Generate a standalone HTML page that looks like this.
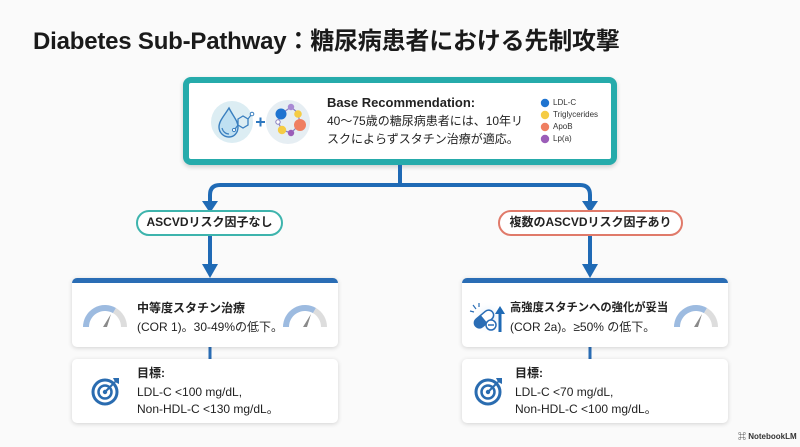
<!DOCTYPE html>
<html><head><meta charset="utf-8">
<style>
*{margin:0;padding:0;box-sizing:border-box}
body{width:800px;height:447px;background:#fafafa;position:relative;overflow:hidden;font-family:"Liberation Sans","Noto Sans CJK JP",sans-serif;color:#222}
.abs{position:absolute}
.title{left:33px;top:27px;font-size:24px;font-weight:bold;line-height:30px;color:#1a1a1a;white-space:nowrap;letter-spacing:-0.2px}
.topbox{left:183px;top:77px;width:434px;height:88px;border:6px solid #26abab;border-radius:8px;background:#fff;box-shadow:0 2px 5px rgba(0,0,0,0.18)}
.pill{height:26px;border-radius:13px;background:#fff;font-size:12px;font-weight:bold;line-height:21px;text-align:center;white-space:nowrap;color:#222}
.card{background:#fff;border-radius:5px;box-shadow:0 1px 5px rgba(0,0,0,0.16)}
.bar{border-top:5px solid #2a6db5}
.t{font-size:12px;line-height:18px;white-space:nowrap;color:#222}
.b{font-weight:bold}
.leg{font-size:8px;line-height:12px;color:#333;white-space:nowrap}
</style></head>
<body>
<div class="abs title">Diabetes Sub-Pathway：糖尿病患者における先制攻撃</div>

<div class="abs topbox"></div>

<!-- connectors -->
<svg class="abs" style="left:0;top:0" width="800" height="447" viewBox="0 0 800 447">
  <g fill="none" stroke="#1f6ab5" stroke-width="4">
    <path d="M400 165 V185"/>
    <path d="M210 204 V195 Q210 185 220 185 H580 Q590 185 590 195 V204"/>
    <path d="M210 236 V268"/>
    <path d="M590 236 V268"/>
  </g>
  <g fill="#1f6ab5">
    <polygon points="202,201 218,201 210,213"/>
    <polygon points="582,201 598,201 590,213"/>
    <polygon points="202,264 218,264 210,278"/>
    <polygon points="582,264 598,264 590,278"/>
  </g>
  <rect x="208.5" y="347" width="3" height="12" fill="#2a6db5"/>
  <rect x="588.5" y="347" width="3" height="12" fill="#2a6db5"/>
</svg>

<!-- top box icons -->
<svg class="abs" style="left:205px;top:96px" width="110" height="52" viewBox="205 96 110 52">
  <circle cx="232" cy="122" r="21" fill="#dcedf3"/>
  <path d="M229 108 C224 116 219 121 219 127 C219 133 224 137 229 137 C234 137 238 133 238 127 C238 121 233 116 229 108 Z" fill="#bfe0f2" stroke="#3a7fbf" stroke-width="1.4"/>
  <path d="M222 128 C223 132 226 134 229 134" fill="none" stroke="#3a7fbf" stroke-width="1.2"/>
  <polygon points="238,119 243,116 248,119 248,125 243,128 238,125" fill="none" stroke="#3a7fbf" stroke-width="1.3"/>
  <line x1="248" y1="119" x2="251" y2="115" stroke="#3a7fbf" stroke-width="1.2"/>
  <circle cx="252" cy="114" r="1.8" fill="#fff" stroke="#3a7fbf" stroke-width="1"/>
  <line x1="238" y1="125" x2="235" y2="129" stroke="#3a7fbf" stroke-width="1.2"/>
  <circle cx="234" cy="130" r="1.6" fill="#fff" stroke="#3a7fbf" stroke-width="1"/>
  <path d="M256 122 H265 M260.5 117.5 V126.5" stroke="#2e78c0" stroke-width="2"/>
  <circle cx="288" cy="122" r="22" fill="#e6eef3"/>
  <g stroke="#8a7fc0" stroke-width="1.2" fill="none">
    <path d="M281 114 L291 107 L298 113 L300 124 L291 133 L282 130 L278 122 Z"/>
  </g>
  <circle cx="281" cy="114" r="5.5" fill="#1f74d0"/>
  <circle cx="291" cy="107" r="3.2" fill="#a98ad4"/>
  <circle cx="298" cy="114" r="3.8" fill="#f5cc45"/>
  <circle cx="300" cy="125" r="6" fill="#ef7f62"/>
  <circle cx="291" cy="133" r="3.2" fill="#9b5db8"/>
  <circle cx="282" cy="130" r="4.2" fill="#f5cc45"/>
  <circle cx="278" cy="122" r="2.2" fill="#fff" stroke="#8a7fc0" stroke-width="1"/>
</svg>

<div class="abs t b" style="left:327px;top:94px;font-size:13px">Base Recommendation:</div>
<div class="abs t" style="left:327px;top:112px">40〜75歳の糖尿病患者には、10年リ</div>
<div class="abs t" style="left:327px;top:130px">スクによらずスタチン治療が適応。</div>

<svg class="abs" style="left:538px;top:97px" width="14" height="50" viewBox="0 0 14 50">
  <circle cx="7" cy="6" r="4.2" fill="#1f74d0"/>
  <circle cx="7" cy="18" r="4.2" fill="#f5cc45"/>
  <circle cx="7" cy="30" r="4.2" fill="#ef7f62"/>
  <circle cx="7" cy="42" r="4.2" fill="#9b5db8"/>
</svg>
<div class="abs leg" style="left:553px;top:97px">LDL-C</div>
<div class="abs leg" style="left:553px;top:109px">Triglycerides</div>
<div class="abs leg" style="left:553px;top:121px">ApoB</div>
<div class="abs leg" style="left:553px;top:133px">Lp(a)</div>

<!-- pills -->
<div class="abs pill" style="left:136px;top:210px;width:147px;border:2.5px solid #3eb4ad">ASCVDリスク因子なし</div>
<div class="abs pill" style="left:498px;top:210px;width:185px;border:2.5px solid #e07a6a">複数のASCVDリスク因子あり</div>

<!-- left cards -->
<div class="abs card bar" style="left:72px;top:278px;width:266px;height:69px"></div>
<div class="abs card" style="left:72px;top:359px;width:266px;height:64px"></div>
<!-- right cards -->
<div class="abs card bar" style="left:462px;top:278px;width:266px;height:69px"></div>
<div class="abs card" style="left:462px;top:359px;width:266px;height:64px"></div>

<!-- gauges -->
<svg class="abs" style="left:0;top:0" width="800" height="447" viewBox="0 0 800 447">
  <defs>
    <g id="g">
      <path d="M-19 0 A19 19 0 0 1 9.5 -16.45" fill="none" stroke="#9dbbe0" stroke-width="6"/>
      <path d="M9.5 -16.45 A19 19 0 0 1 19 0" fill="none" stroke="#dddddd" stroke-width="6"/>
      <path d="M-2 0 L6 -13 L2 0 Z" fill="#8a8a8a"/>
    </g>
    <radialGradient id="glow" cx="0.5" cy="0.5" r="0.5">
      <stop offset="0" stop-color="#cfe2f5" stop-opacity="1"/>
      <stop offset="1" stop-color="#ffffff" stop-opacity="0"/>
    </radialGradient>
  </defs>
  <use href="#g" x="105" y="327"/>
  <use href="#g" x="305" y="327"/>
  <use href="#g" x="696" y="327"/>

  <!-- pill icon -->
  <circle cx="488" cy="318" r="17" fill="url(#glow)"/>
  <g transform="translate(484 319) rotate(-40)">
    <rect x="-11" y="-5" width="22" height="10" rx="5" fill="#fff" stroke="#2a6db5" stroke-width="1.5"/>
    <path d="M-6 -5 H0 V5 H-6 A5 5 0 0 1 -6 -5 Z" fill="#2a6db5"/>
  </g>
  <circle cx="491" cy="325" r="5" fill="#fff" stroke="#2a6db5" stroke-width="1.5"/>
  <line x1="488" y1="325" x2="494" y2="325" stroke="#2a6db5" stroke-width="1.5"/>
  <path d="M500 332 V312" stroke="#1f6ab5" stroke-width="3"/>
  <polygon points="495,314 505,314 500,306" fill="#1f6ab5"/>
  <g stroke="#2a6db5" stroke-width="1.2">
    <line x1="473" y1="305" x2="476" y2="309"/>
    <line x1="470" y1="311" x2="474" y2="312"/>
    <line x1="479" y1="303" x2="479" y2="307"/>
  </g>

  <!-- targets -->
  <g id="tg">
    <circle cx="105" cy="392" r="12" fill="none" stroke="#2a6cb0" stroke-width="3"/>
    <circle cx="105" cy="392" r="6.5" fill="none" stroke="#2a6cb0" stroke-width="2.5"/>
    <circle cx="105" cy="392" r="2.2" fill="#2a6cb0"/>
    <line x1="105" y1="392" x2="115" y2="382" stroke="#2a6cb0" stroke-width="2"/>
    <polygon points="113,378 119,378 119,384 115,382" fill="#2a6cb0"/>
  </g>
  <use href="#tg" x="383" y="0"/>
</svg>

<!-- card texts left -->
<div class="abs t b" style="left:137px;top:299px">中等度スタチン治療</div>
<div class="abs t" style="left:137px;top:318px">(COR 1)。30-49%の低下。</div>
<div class="abs t b" style="left:137px;top:364px">目標:</div>
<div class="abs t" style="left:137px;top:383px">LDL-C &lt;100 mg/dL,</div>
<div class="abs t" style="left:137px;top:400px">Non-HDL-C &lt;130 mg/dL。</div>

<!-- card texts right -->
<div class="abs t b" style="left:510px;top:299px;font-size:11.3px">高強度スタチンへの強化が妥当</div>
<div class="abs t" style="left:510px;top:318px">(COR 2a)。≥50% の低下。</div>
<div class="abs t b" style="left:515px;top:364px">目標:</div>
<div class="abs t" style="left:515px;top:383px">LDL-C &lt;70 mg/dL,</div>
<div class="abs t" style="left:515px;top:400px">Non-HDL-C &lt;100 mg/dL。</div>

<!-- watermark -->
<div class="abs" style="left:738px;top:431px;font-size:8px;line-height:12px;color:#333;font-weight:bold;white-space:nowrap">⌘ NotebookLM</div>
</body></html>
